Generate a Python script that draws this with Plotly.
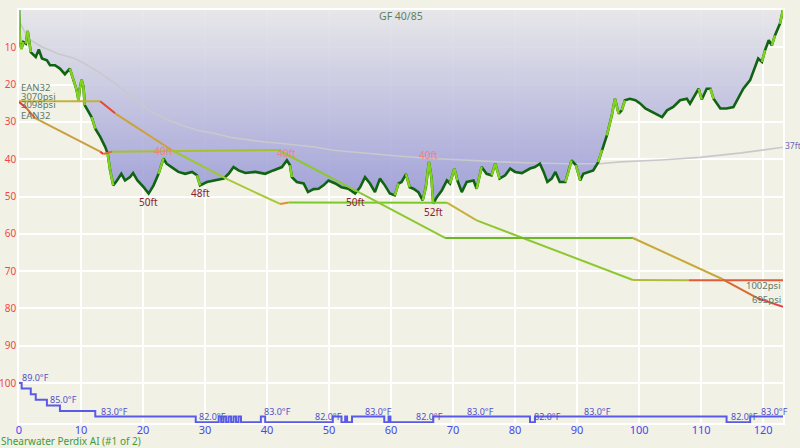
import plotly.graph_objects as go

#-----------------------------------------------------------------------------
# dive data (time in minutes, depth in feet)
DEPTH_MIN = [0.0, 0.16, 0.4, 0.7, 1.1, 1.4, 1.7, 1.9, 2.7, 3.2, 3.7, 4.5, 5.0, 5.8, 6.6, 7.4, 8.2, 8.8,
             9.3, 9.6, 9.8, 10.1, 10.4, 10.6, 11.7, 12.3, 13.1, 13.9, 14.3, 14.7, 15.2, 15.8, 16.5,
             17.1, 17.9, 18.4, 19.1, 20.1, 20.9, 21.7, 22.5, 23.3, 23.8, 24.6, 25.7, 26.8, 27.9, 28.7,
             29.2, 30.3, 31.6, 33.0, 33.8, 34.6, 35.4, 36.5, 38.1, 39.7, 41.0, 42.4, 43.2, 43.7, 44.0,
             44.8, 45.9, 46.6, 47.5, 48.3, 49.1, 49.9, 51.0, 52.0, 53.1, 54.2, 55.0, 55.8, 56.6, 57.4,
             58.2, 59.0, 59.8, 60.6, 61.2, 61.7, 62.4, 63.0, 63.6, 64.4, 65.1, 65.6, 66.1, 66.5, 66.8,
             67.4, 68.2, 69.0, 69.5, 70.2, 70.7, 71.4, 72.2, 73.3, 73.8, 74.6, 75.4, 76.2, 76.8, 77.5,
             78.4, 79.2, 80.0, 81.1, 82.4, 83.2, 84.0, 84.6, 85.2, 85.9, 86.5, 87.2, 88.1, 88.6, 89.1,
             89.8, 90.5, 91.0, 91.8, 92.6, 93.4, 94.0, 94.8, 95.6, 96.1, 96.7, 97.2, 97.7, 98.5, 99.4,
             100.2, 101.0, 102.0, 102.9, 103.7, 104.5, 105.5, 106.6, 107.7, 108.2, 109.0, 109.6, 110.1,
             110.9, 111.5, 112.0, 113.1, 114.1, 115.2, 115.8, 116.8, 117.9, 118.7, 119.2, 119.8, 120.3,
             120.9, 121.4, 121.9, 122.5, 122.7, 123.2]
DEPTH_FT = [0.0, 9.0, 10.4, 8.6, 9.0, 5.6, 9.0, 11.3, 12.6, 10.6, 13.0, 13.5, 14.8, 14.8, 15.7, 17.2, 15.7, 18.8,
            21.5, 24.2, 21.1, 18.7, 20.6, 25.5, 28.7, 31.8, 34.0, 36.7, 38.5, 43.0, 47.0, 45.7, 43.9,
            45.7, 44.8, 43.7, 45.7, 47.5, 49.2, 47.0, 43.9, 39.8, 41.2, 42.1, 43.4, 43.9, 43.4, 44.3,
            47.0, 46.1, 45.7, 45.2, 43.9, 42.1, 43.0, 43.7, 43.4, 43.9, 43.0, 42.1, 40.3, 41.6, 44.8,
            46.1, 46.5, 48.8, 48.0, 47.9, 47.0, 45.7, 46.5, 47.5, 47.9, 49.2, 47.5, 44.8, 46.5, 48.8,
            45.2, 47.0, 49.2, 49.7, 46.5, 46.1, 44.0, 47.5, 47.9, 48.8, 51.0, 47.5, 40.7, 44.8, 51.9,
            50.1, 48.3, 45.7, 46.5, 42.5, 45.7, 48.8, 46.1, 45.7, 47.9, 42.1, 43.9, 44.3, 41.2, 45.2,
            44.3, 42.5, 43.4, 43.7, 42.5, 42.1, 41.2, 43.4, 46.1, 45.2, 43.4, 46.1, 46.1, 43.4, 40.3,
            41.6, 45.7, 43.9, 43.4, 43.0, 40.8, 37.5, 33.6, 28.2, 23.8, 27.8, 26.9, 24.2, 23.8, 24.2,
            25.1, 26.4, 27.3, 28.2, 28.7, 26.9, 26.0, 24.2, 23.8, 25.1, 22.9, 21.1, 24.0,
            21.1, 21.1, 23.8, 26.4, 26.4, 26.0, 24.2, 21.1, 18.8, 15.3, 13.0, 13.9, 10.8,
            8.1, 9.5, 6.8, 4.6, 3.7, 0.0]

# grey tissue / ceiling-like curve
GREY_MIN = [0.2, 1.5, 3.7, 6.3, 9.0, 10.6, 12.8, 15.5, 18.2, 20.9, 23.5, 26.2, 28.9, 31.6, 34.3, 37.0,
            39.7, 42.4, 45.0, 47.7, 50.7, 56.1, 61.5, 66.8, 72.2, 77.6, 83.0, 88.3, 93.7, 96.9, 103.5,
            109.8, 116.5, 123.2]
GREY_FT = [3.5, 7.7, 9.9, 11.7, 13.0, 14.4, 16.6, 19.7, 23.3, 26.9, 29.1, 30.9, 32.3, 33.1, 34.2, 34.9,
           35.4, 35.8, 36.3, 36.7, 37.6, 38.5, 39.2, 39.8, 40.3, 40.7, 41.0, 41.2, 41.2, 40.7, 40.2,
           39.5, 38.3, 36.8]

# tank pressures (psi)
TANK1_MIN = [0.0, 13.1, 15.5, 24.6, 33.8, 42.1, 43.5, 69.0, 73.8, 99.0, 108.0, 123.2]
TANK1_PSI = [3070, 3068, 2930, 2506, 2160, 1883, 1900, 1898, 1693, 1005, 1003, 1002]
TANK2_MIN = [0.0, 1.2, 2.6, 13.1, 13.6, 15.0, 41.8, 55.0, 68.7, 99.0, 113.4, 119.0, 123.2]
TANK2_PSI = [3060, 2990, 2873, 2487, 2460, 2487, 2506, 2010, 1490, 1490, 1016, 797, 695]

# water temperature (F)
TEMP_MIN = [0.0, 0.43, 1.9, 2.7, 4.5, 6.6, 12.3, 28.5, 32.2, 32.6, 33.0, 33.4, 33.8, 34.2, 34.6, 35.0,
            35.4, 35.8, 39.0, 39.7, 50.6, 52.0, 52.6, 52.9, 53.7, 58.9, 59.6, 59.9, 66.8, 82.4, 83.2,
            114.1, 117.9, 123.2]
TEMP_F = [89, 88, 87, 86, 85, 84, 83, 82, 83, 82, 83, 82, 83, 82, 83, 82,
          83, 82, 83, 82, 83, 82, 83, 82, 83, 82, 83, 82, 83, 82, 83,
          82, 83, 83]

TEMP_LABEL_MIN = [0.1, 4.6, 12.9, 28.7, 39.2, 47.4, 55.5, 63.7, 71.9, 82.7, 90.8, 114.5, 119.4]
TEMP_LABEL_F = [89, 85, 83, 82, 83, 82, 83, 82, 83, 82, 83, 82, 83]

# depth markers (time, depth, text, above?)
DEPTH_MARKS = [(20.9, 49.2, '50ft', False), (29.2, 47.0, '48ft', False), (23.3, 39.8, '40ft', True),
               (43.2, 40.3, '40ft', True), (54.2, 49.2, '50ft', False), (66.1, 40.7, '40ft', True),
               (66.8, 51.9, '52ft', False)]

X_TICKS = [0, 10, 20, 30, 40, 50, 60, 70, 80, 90, 100, 110, 120]
Y_TICKS = [10, 20, 30, 40, 50, 60, 70, 80, 90, 100]

#-----------------------------------------------------------------------------
# styles
BG = '#f2f1e6'
FONT = 'Noto Sans'
DARK_GREEN = '#0f6312'
LIGHT_GREEN = '#82d21e'
TANK1_COLORS = ['#c0b23a', '#e8452c', '#cfa03a', '#9cc832', '#a8c834', '#e09030', '#7cc828',
                '#c8b040', '#8cc830', '#b8b838', '#e25a3a']
TANK2_COLORS = ['#e8382a', '#e06a30', '#c8a040', '#e8382a', '#e06a30', '#a8c030', '#8cc830',
                '#8cc830', '#6cb828', '#c8a838', '#d86a30', '#e84040']

fig = go.Figure()

# filled profile with vertical gradient
fig.add_trace(go.Scatter(
    x=DEPTH_MIN, y=DEPTH_FT, mode='lines', line=dict(width=0),
    fill='toself',
    fillgradient=dict(type='vertical', start=0, stop=52,
                      colorscale=[[0, 'rgba(230,230,234,0.9)'], [1, 'rgba(150,150,214,0.9)']]),
    hoverinfo='skip', showlegend=False))

fig.add_trace(go.Scatter(x=GREY_MIN, y=GREY_FT, mode='lines',
                         line=dict(color='#c9c9cb', width=1.6), hoverinfo='skip', showlegend=False))

# depth line: dark base, light green where the diver moves fast
fig.add_trace(go.Scatter(x=DEPTH_MIN, y=DEPTH_FT, mode='lines',
                         line=dict(color=DARK_GREEN, width=2.6), showlegend=False))
fx, fy = [], []
for i in range(len(DEPTH_MIN) - 1):
    rate = abs(DEPTH_FT[i + 1] - DEPTH_FT[i]) / (DEPTH_MIN[i + 1] - DEPTH_MIN[i])
    if rate > 5:
        fx += [DEPTH_MIN[i], DEPTH_MIN[i + 1], None]
        fy += [DEPTH_FT[i], DEPTH_FT[i + 1], None]
fig.add_trace(go.Scatter(x=fx, y=fy, mode='lines', line=dict(color=LIGHT_GREEN, width=2.4),
                         showlegend=False))

# temperature
fig.add_trace(go.Scatter(x=TEMP_MIN, y=TEMP_F, mode='lines', yaxis='y3',
                         line=dict(color='#5a5ae8', width=2, shape='hv'), showlegend=False))

# tank pressures, segment colored
for tmin, psi, cols in [(TANK1_MIN, TANK1_PSI, TANK1_COLORS), (TANK2_MIN, TANK2_PSI, TANK2_COLORS)]:
    for i in range(len(tmin) - 1):
        fig.add_trace(go.Scatter(x=tmin[i:i + 2], y=psi[i:i + 2], mode='lines', yaxis='y2',
                                 line=dict(color=cols[i], width=2), showlegend=False))

# labels
ann = []
for t, d, txt, above in DEPTH_MARKS:
    ann.append(dict(x=t, y=d, text=txt, showarrow=False, xref='x', yref='y',
                    yshift=7 if above else -8,
                    font=dict(size=10, color='#ec8484' if above else '#8a2030', family=FONT)))
for t, f in zip(TEMP_LABEL_MIN, TEMP_LABEL_F):
    ann.append(dict(x=t, y=f, yref='y3', xref='x', text=f'{f:.1f}°F', showarrow=False,
                    xanchor='left', yanchor='bottom', yshift=-3,
                    font=dict(size=9, color='#5050c8', family=FONT)))
gas_col = '#5d7868'
ann += [
    dict(x=0, y=TANK1_PSI[0], xref='x', yref='y2', text='EAN32', xanchor='left', yshift=14),
    dict(x=0, y=TANK1_PSI[0], xref='x', yref='y2', text=f'{TANK1_PSI[0]}psi', xanchor='left', yshift=5),
    dict(x=0, y=TANK2_PSI[0], xref='x', yref='y2', text='3098psi', xanchor='left', yshift=-2),
    dict(x=0, y=TANK2_PSI[0], xref='x', yref='y2', text='EAN32', xanchor='left', yshift=-13),
    dict(x=TANK1_MIN[-1], y=TANK1_PSI[-1], xref='x', yref='y2', text=f'{TANK1_PSI[-1]}psi',
         xanchor='right', yshift=-5),
    dict(x=TANK2_MIN[-1], y=TANK2_PSI[-1], xref='x', yref='y2', text=f'{TANK2_PSI[-1]}psi',
         xanchor='right', yshift=7),
]
for a in ann[-6:]:
    a.update(showarrow=False, font=dict(size=9.5, color=gas_col, family=FONT))
ann.append(dict(x=GREY_MIN[-1], y=GREY_FT[-1], xref='x', yref='y', text='37ft', showarrow=False,
                xanchor='left', xshift=0, yshift=2, font=dict(size=8.5, color='#6a6ab4', family=FONT)))
ann.append(dict(x=0.5, y=1, xref='paper', yref='paper', text='GF 40/85', showarrow=False,
                yanchor='middle', yshift=-6, font=dict(size=10.5, color='#5f7f5f', family=FONT)))
ann.append(dict(x=0, y=0, xref='paper', yref='paper', text='Shearwater Perdix AI (#1 of 2)',
                showarrow=False, xanchor='left', yanchor='middle', xshift=-20, yshift=-18,
                font=dict(size=10, color='#3f9a3f', family=FONT)))

fig.update_layout(
    width=800, height=448,
    margin=dict(l=19, r=17, t=10, b=25),
    paper_bgcolor=BG, plot_bgcolor=BG,
    font=dict(family=FONT),
    annotations=ann,
    xaxis=dict(range=[0, 123.2], tickvals=X_TICKS, showgrid=True, gridcolor='white', gridwidth=1.5,
               zeroline=False, showline=True, linecolor='white', linewidth=1.5, mirror=True,
               tickfont=dict(size=11, color='#4848ee'), ticks='', automargin=False,
               ticklabelstandoff=-4),
    yaxis=dict(range=[110.7, 0], tickvals=Y_TICKS, showgrid=True, gridcolor='white', gridwidth=1.5,
               zeroline=False, showline=True, linecolor='white', linewidth=1.5, mirror=True,
               tickfont=dict(size=10, color='#f04848'), ticks='', automargin=False,
               ticklabelstandoff=-1),
    yaxis2=dict(range=[-647, 4123], overlaying='y', visible=False),
    yaxis3=dict(range=[81.86, 155.6], overlaying='y', visible=False),
    showlegend=False,
)

# drop the browser's default body margin so the figure sits at the window corner
fig.write_html("out.html", config={'displayModeBar': False},
               post_script="document.body.style.margin='0';document.body.style.background='%s';" % BG)
